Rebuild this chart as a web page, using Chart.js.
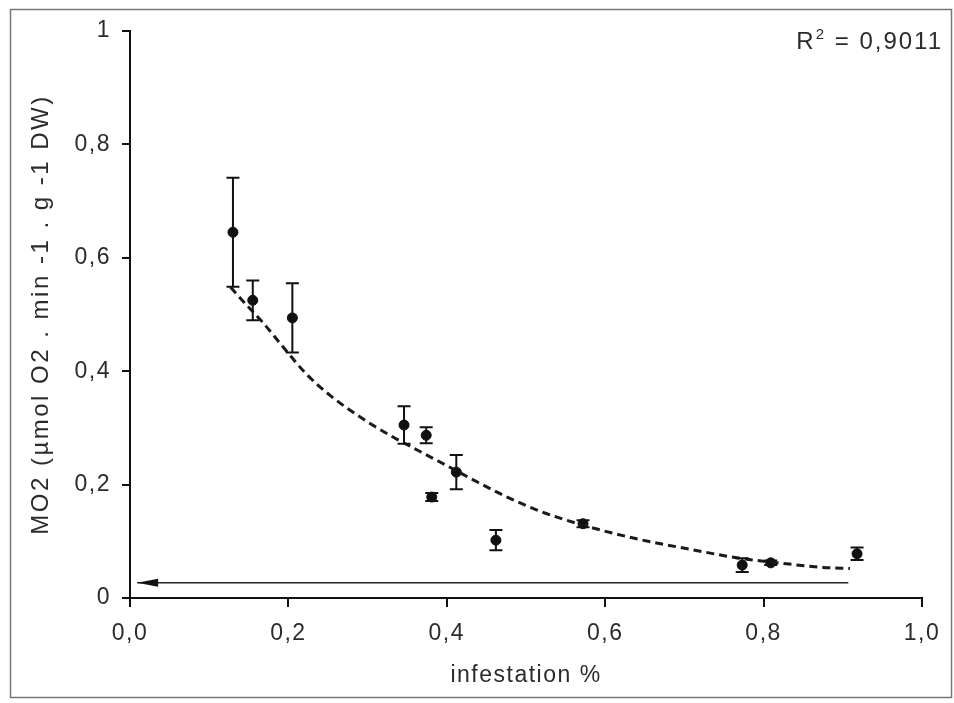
<!DOCTYPE html>
<html>
<head>
<meta charset="utf-8">
<script src="https://cdn.jsdelivr.net/npm/chart.js@4.4.1/dist/chart.umd.min.js"></script>
<style>
  html, body { margin: 0; padding: 0; background: #fff; }
  canvas { display: block; }
</style>
</head>
<body>
<canvas id="chart" width="954" height="703"></canvas>
<script>
// measured points (infestation vs MO2) with error bars
const infestation = [0.130, 0.155, 0.205, 0.346, 0.374, 0.381, 0.412, 0.462, 0.572, 0.773, 0.809, 0.918]
const mo2 = [0.645, 0.525, 0.494, 0.305, 0.287, 0.178, 0.222, 0.102, 0.131, 0.058, 0.062, 0.078]
const mo2Err = [0.096, 0.035, 0.061, 0.033, 0.014, 0.007, 0.030, 0.018, 0.006, 0.012, 0.004, 0.011]

// dashed trend line
const trendX = [0.127, 0.143, 0.167, 0.192, 0.222, 0.253, 0.294, 0.332, 0.379, 0.410, 0.438, 0.473, 0.518, 0.568, 0.644, 0.707, 0.770, 0.812, 0.875, 0.909]
const trendY = [0.548, 0.523, 0.487, 0.445, 0.396, 0.357, 0.316, 0.284, 0.249, 0.226, 0.205, 0.180, 0.153, 0.130, 0.103, 0.086, 0.070, 0.063, 0.054, 0.052]

// horizontal arrow near the bottom
const arrowX = [0.907, 0.009]
const arrowY = [0.027, 0.027]

const xTickLabels = ['0,0', '0,2', '0,4', '0,6', '0,8', '1,0']
const yTickLabels = ['0', '0,2', '0,4', '0,6', '0,8', '1']
const yTitle = 'MO2 (µmol O2 . min -1 . g -1 DW)'
const rSquared = '0,9011'

const FONT = "'Liberation Sans', Arial, sans-serif"
const INK = '#2b2b2b'

const spacing = {
  id: 'spacing',
  beforeLayout(chart) { chart.ctx.letterSpacing = '1.5px' },
  beforeDraw(chart) { chart.ctx.letterSpacing = '1.5px' }
}

const frame = {
  id: 'frame',
  beforeDraw(chart) {
    const ctx = chart.ctx
    ctx.save()
    ctx.fillStyle = '#fff'
    ctx.fillRect(0, 0, chart.width, chart.height)
    ctx.strokeStyle = '#777'
    ctx.lineWidth = 1.5
    ctx.strokeRect(10.5, 9.5, 941, 688)
    ctx.restore()
  }
}

const errorBars = {
  id: 'errorBars',
  afterDatasetsDraw(chart) {
    const ctx = chart.ctx
    const x = chart.scales.x, y = chart.scales.y
    ctx.save()
    ctx.strokeStyle = '#111'
    ctx.lineWidth = 2
    infestation.forEach((v, i) => {
      const px = x.getPixelForValue(v)
      const top = y.getPixelForValue(mo2[i] + mo2Err[i])
      const bot = y.getPixelForValue(mo2[i] - mo2Err[i])
      ctx.beginPath()
      ctx.moveTo(px, top); ctx.lineTo(px, bot)
      ctx.moveTo(px - 6.5, top); ctx.lineTo(px + 6.5, top)
      ctx.moveTo(px - 6.5, bot); ctx.lineTo(px + 6.5, bot)
      ctx.stroke()
    })
    // arrow head on the left end of the arrow line
    const pts = chart.getDatasetMeta(1).data
    const tip = pts[pts.length - 1]
    ctx.fillStyle = '#111'
    ctx.beginPath()
    ctx.moveTo(tip.x, tip.y)
    ctx.lineTo(tip.x + 21, tip.y - 4)
    ctx.lineTo(tip.x + 21, tip.y + 4)
    ctx.closePath()
    ctx.fill()
    ctx.restore()
  }
}

const labels = {
  id: 'labels',
  afterDraw(chart) {
    const ctx = chart.ctx
    const area = chart.chartArea
    ctx.save()
    ctx.fillStyle = INK

    // y axis title, a bit wider spaced than the ticks
    ctx.letterSpacing = '2.5px'
    ctx.font = '24px ' + FONT
    ctx.textAlign = 'center'
    ctx.textBaseline = 'middle'
    ctx.translate(41, (area.top + area.bottom) / 2)
    ctx.rotate(-Math.PI / 2)
    ctx.fillText(yTitle, 0, 0)
    ctx.setTransform(1, 0, 0, 1, 0, 0)

    // R² label, top right
    ctx.letterSpacing = '2px'
    ctx.textAlign = 'left'
    ctx.textBaseline = 'alphabetic'
    ctx.font = '24px ' + FONT
    const rest = ' = ' + rSquared
    const wR = ctx.measureText('R').width
    const wRest = ctx.measureText(rest).width
    ctx.font = '15px ' + FONT
    const w2 = ctx.measureText('2').width
    let xPos = 943 - wRest - w2 - wR
    ctx.font = '24px ' + FONT
    ctx.fillText('R', xPos, 49)
    xPos += wR
    ctx.font = '15px ' + FONT
    ctx.fillText('2', xPos, 39)
    xPos += w2
    ctx.font = '24px ' + FONT
    ctx.fillText(rest, xPos, 49)
    ctx.restore()
  }
}

new Chart(document.getElementById('chart'), {
  type: 'scatter',
  data: {
    datasets: [
      {
        type: 'line',
        data: trendX.map((v, i) => ({ x: v, y: trendY[i] })),
        borderColor: '#1a1a1a',
        borderWidth: 3,
        borderDash: [8, 5],
        pointRadius: 0,
        cubicInterpolationMode: 'monotone',
        fill: false
      },
      {
        type: 'line',
        data: arrowX.map((v, i) => ({ x: v, y: arrowY[i] })),
        borderColor: '#222',
        borderWidth: 1.5,
        pointRadius: 0,
        fill: false
      },
      {
        data: infestation.map((v, i) => ({ x: v, y: mo2[i] })),
        backgroundColor: '#111',
        borderColor: '#111',
        pointRadius: 5,
        pointHoverRadius: 5
      }
    ]
  },
  options: {
    responsive: false,
    devicePixelRatio: 1,
    animation: false,
    layout: { padding: { top: 31, right: 32, left: 0, bottom: 0 } },
    plugins: {
      legend: { display: false },
      tooltip: { enabled: false }
    },
    scales: {
      x: {
        type: 'linear',
        min: 0,
        max: 1,
        afterFit: (s) => { s.height = 105 },
        border: { color: '#111', width: 2 },
        grid: { drawOnChartArea: false, color: '#111', lineWidth: 2, tickLength: 9 },
        ticks: {
          stepSize: 0.2,
          padding: 13,
          color: INK,
          font: { family: FONT, size: 23 },
          maxRotation: 0,
          callback: (v, i) => xTickLabels[i]
        },
        title: {
          display: true,
          text: 'infestation %',
          color: INK,
          font: { family: FONT, size: 23 },
          padding: { top: 0, bottom: 14 }
        }
      },
      y: {
        type: 'linear',
        min: 0,
        max: 1,
        afterFit: (s) => { s.width = 130 },
        border: { color: '#111', width: 2 },
        grid: { drawOnChartArea: false, color: '#111', lineWidth: 2, tickLength: 8 },
        ticks: {
          stepSize: 0.2,
          padding: 11,
          color: INK,
          font: { family: FONT, size: 23 },
          callback: (v, i) => yTickLabels[i]
        }
      }
    }
  },
  plugins: [spacing, frame, errorBars, labels]
})
</script>
</body>
</html>
